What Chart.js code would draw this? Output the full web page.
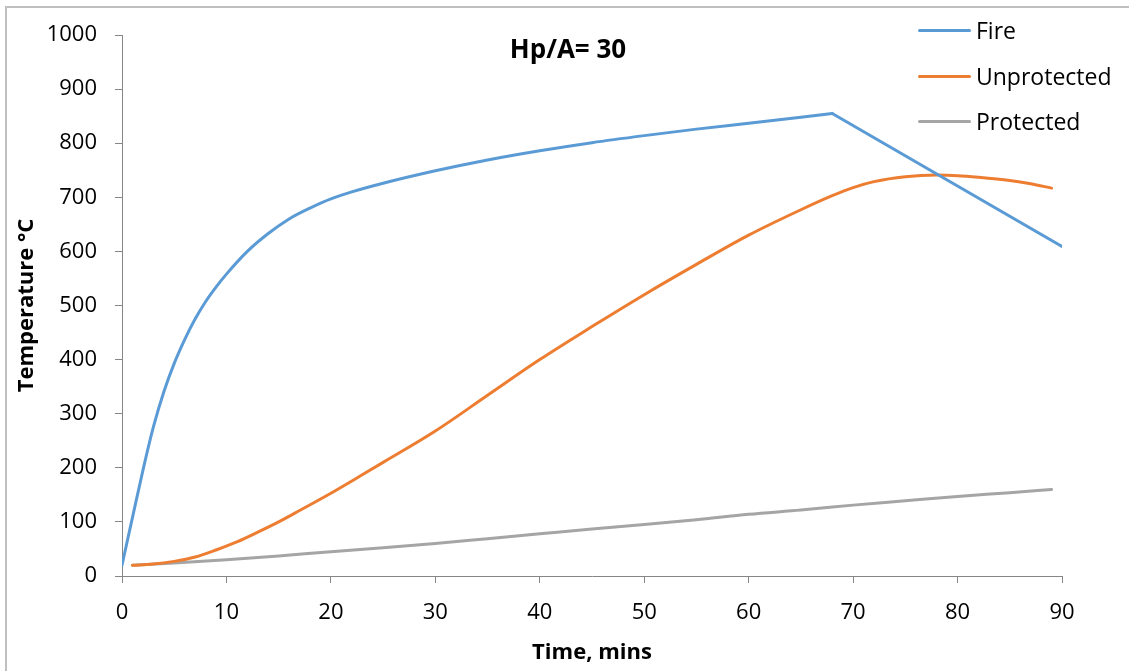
<!DOCTYPE html>
<html>
<head>
<meta charset="utf-8">
<script src="https://cdn.jsdelivr.net/npm/chart.js@4.4.1/dist/chart.umd.min.js"></script>
<style>
  html, body { margin: 0; padding: 0; background: #fff; }
  #wrap { position: relative; width: 1129px; height: 671px; overflow: hidden; font-family: 'Open Sans', sans-serif; }
  #frame { position: absolute; left: 5px; top: 6px; width: 1300px; height: 800px; border-left: 2px solid #bfbfbf; border-top: 2px solid #bfbfbf; }
  canvas { position: absolute; left: 0; top: 0; }
  #title { position: absolute; left: 468px; width: 200px; top: 29px; text-align: center; font-weight: bold; font-size: 26px; line-height: 38px; color: #000; }
  #legend { position: absolute; left: 918px; top: 0; }
  .item { position: absolute; left: 0; width: 220px; height: 30px; }
  .swatch { position: absolute; left: 0; width: 53px; height: 3px; border-radius: 1.5px; }
  .lbl { position: absolute; left: 58px; font-size: 23px; line-height: 30px; color: #000; white-space: nowrap; }
</style>
</head>
<body>
<div id="wrap">
  <div id="frame"></div>
  <canvas id="c" width="1129" height="671"></canvas>
  <div id="title">Hp/A= 30</div>
  <div id="legend"></div>
</div>
<script>
// ---- Data ----
const seriesNames = ['Fire', 'Unprotected', 'Protected'];
const seriesColors = ['#5B9BD5', '#ED7D31', '#A5A5A5'];

const fireTimes = [0, 1, 2, 3, 4, 5, 6, 7, 8, 9, 10, 12, 14, 16, 18, 20, 22, 25, 30, 35, 40, 45, 50, 55, 60, 65, 68, 90];
const fireTemps = [20, 108, 195, 275, 340, 393, 437, 475, 507, 534, 558, 600, 633, 660, 680, 697, 710, 726, 749, 769, 786, 801, 814, 826, 837, 848, 855, 609];

const unprotTimes = [1, 3, 5, 7, 9, 11, 13, 15, 17, 20, 23, 25, 30, 35, 40, 45, 50, 55, 60, 65, 68, 70, 72, 75, 78, 80, 82, 85, 87, 89];
const unprotTemps = [20, 22, 27, 35, 48, 63, 81, 100, 121, 153, 187, 210, 268, 334, 400, 461, 520, 576, 630, 677, 703, 718, 729, 738, 741, 740, 737, 731, 725, 717];

const protTimes = [1, 5, 10, 15, 20, 25, 30, 35, 40, 45, 50, 55, 60, 65, 70, 75, 80, 85, 89];
const protTemps = [20, 24, 30, 37, 45, 52, 60, 69, 78, 87, 95, 104, 114, 122, 131, 139, 147, 154, 160];

const xTickStep = 10, xMin = 0, xMax = 90;
const yTickStep = 100, yMin = 0, yMax = 1000;
const xTitle = 'Time, mins';
const yTitle = 'Temperature °C';

function pts(ts, vs) { return ts.map((t, i) => ({ x: t, y: vs[i] })); }

// the fire curve has a sharp peak (end of heating phase, then linear decay)
const peakIdx = fireTemps.indexOf(Math.max(...fireTemps));
const fireHeating = pts(fireTimes.slice(0, peakIdx + 1), fireTemps.slice(0, peakIdx + 1));
const fireCooling = pts(fireTimes.slice(peakIdx), fireTemps.slice(peakIdx));

// legend (HTML)
const legendTops = [30, 76, 121];
const legendEl = document.getElementById('legend');
seriesNames.forEach((n, i) => {
  const it = document.createElement('div');
  it.className = 'item';
  it.style.top = (legendTops[i] - 15) + 'px';
  it.innerHTML = '<div class="swatch" style="top:13.5px;background:' + seriesColors[i] + '"></div><div class="lbl">' + n + '</div>';
  legendEl.appendChild(it);
});

const axisColor = '#868686';
const tickFont = { family: 'Open Sans', size: 22 };
const titleFont = { family: 'Open Sans', size: 22, weight: 'bold' };
const lineBase = { borderWidth: 3, pointRadius: 0, borderCapStyle: 'round', borderJoinStyle: 'round' };

new Chart(document.getElementById('c'), {
  type: 'line',
  data: {
    datasets: [
      Object.assign({ label: seriesNames[0], data: fireHeating, borderColor: seriesColors[0], cubicInterpolationMode: 'monotone' }, lineBase),
      Object.assign({ label: seriesNames[0] + ' (decay)', data: fireCooling, borderColor: seriesColors[0], tension: 0 }, lineBase),
      Object.assign({ label: seriesNames[1], data: pts(unprotTimes, unprotTemps), borderColor: seriesColors[1], cubicInterpolationMode: 'monotone' }, lineBase),
      Object.assign({ label: seriesNames[2], data: pts(protTimes, protTemps), borderColor: seriesColors[2], cubicInterpolationMode: 'monotone' }, lineBase)
    ]
  },
  options: {
    responsive: false,
    animation: false,
    devicePixelRatio: 1,
    layout: { padding: { left: 0, right: 67, top: 35, bottom: 0 } },
    plugins: { legend: { display: false }, title: { display: false }, tooltip: { enabled: false } },
    scales: {
      x: {
        type: 'linear', min: xMin, max: xMax,
        ticks: { stepSize: xTickStep, color: '#000', font: tickFont, padding: 17, maxRotation: 0, callback: v => String(v) },
        grid: { drawOnChartArea: false, drawTicks: true, tickLength: 7, color: axisColor, lineWidth: 1 },
        border: { display: true, color: axisColor, width: 1 },
        title: { display: true, text: xTitle, color: '#000', font: titleFont, padding: { top: 0, bottom: 5 } },
        afterFit(s) { s.height = 95; }
      },
      y: {
        type: 'linear', min: yMin, max: yMax,
        ticks: { stepSize: yTickStep, color: '#000', font: tickFont, padding: 18, callback: v => String(v) },
        grid: { drawOnChartArea: false, drawTicks: true, tickLength: 7, color: axisColor, lineWidth: 1 },
        border: { display: true, color: axisColor, width: 1 },
        title: { display: true, text: yTitle, color: '#000', font: titleFont, padding: { top: 14, bottom: 0 } },
        afterFit(s) { s.width = 122; }
      }
    }
  }
});
</script>
</body>
</html>
